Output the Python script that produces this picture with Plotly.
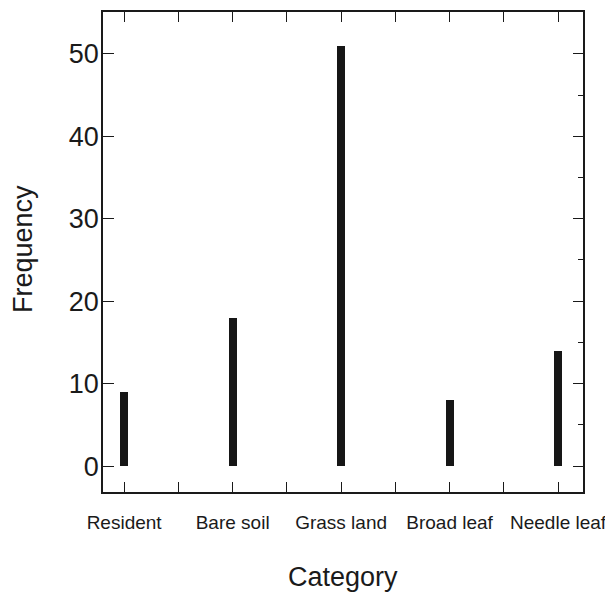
import plotly.graph_objects as go

categories = ["Resident", "Bare soil", "Grass land", "Broad leaf", "Needle leaf"]
frequency = [9, 18, 51, 8, 14]
y_ticks = [0, 10, 20, 30, 40, 50]

pos = list(range(len(categories)))
FONT = "Liberation Sans, Arial, sans-serif"
INK = "#1a1a1a"

fig = go.Figure()
fig.add_trace(go.Bar(x=pos, y=frequency, width=0.075,
                     marker=dict(color="#161616", line=dict(width=0)),
                     showlegend=False))

yr = [-3.14, 55.07]
xr = [-0.195, 4.23]

fig.update_layout(
    width=605, height=588,
    margin=dict(l=95, r=30, t=2, b=104),
    paper_bgcolor="white", plot_bgcolor="white",
    font=dict(family=FONT, color=INK),
    xaxis=dict(range=xr, tickvals=pos, ticktext=categories,
               ticks="inside", ticklen=10, tickwidth=1.3, tickcolor=INK,
               minor=dict(tickvals=[0.5, 1.5, 2.5, 3.5], ticks="inside", ticklen=5,
                          tickwidth=1.3, tickcolor=INK),
               showline=True, linewidth=1.5, linecolor=INK, mirror="allticks",
               showgrid=False, zeroline=False,
               tickfont=dict(size=19, family=FONT, color=INK),
               ticklabelstandoff=12),
    yaxis=dict(range=yr, tickvals=y_ticks,
               ticks="inside", ticklen=11, tickwidth=1.3, tickcolor=INK,
               showline=True, linewidth=1.5, linecolor=INK, mirror=True,
               showgrid=False, zeroline=False,
               tickfont=dict(size=27, family=FONT, color=INK),
               ticklabelstandoff=-3),
    yaxis2=dict(range=yr, overlaying="y", side="right", tickvals=y_ticks,
                ticks="inside", ticklen=10, tickwidth=1.3, tickcolor=INK,
                minor=dict(tickvals=[5, 15, 25, 35, 45], ticks="inside", ticklen=5,
                           tickwidth=1.3, tickcolor=INK),
                showticklabels=False, showline=False, showgrid=False, zeroline=False),
    bargap=0,
)
fig.add_trace(go.Scatter(x=[None], y=[None], yaxis="y2", showlegend=False, hoverinfo="skip"))

fig.add_annotation(text="Frequency", xref="paper", yref="paper", x=-0.167, y=0.506,
                   showarrow=False, textangle=-90, font=dict(size=27, family=FONT, color=INK),
                   xanchor="center", yanchor="middle")
fig.add_annotation(text="Category", xref="paper", yref="paper", x=0.5, y=-0.178,
                   showarrow=False, font=dict(size=27, family=FONT, color=INK),
                   xanchor="center", yanchor="middle")

fig.write_html("out.html")
